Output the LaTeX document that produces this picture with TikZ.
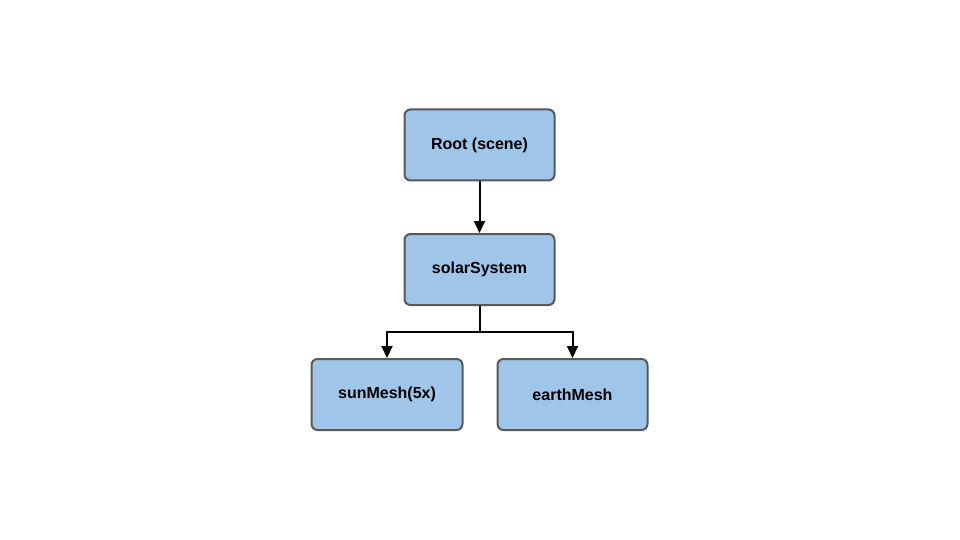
\documentclass[tikz,border=0pt]{standalone}
\usepackage{fontspec}
\setmainfont{Liberation Sans}
\usetikzlibrary{arrows.meta}
\definecolor{boxfill}{HTML}{9FC5E8}
\definecolor{boxline}{HTML}{595959}
\begin{document}
\begin{tikzpicture}[x=1pt,y=-1pt,
  box/.style={draw=boxline,line width=2pt,fill=boxfill,rounded corners=6pt,minimum width=150pt,minimum height=71pt,font=\fontsize{16}{19}\selectfont\bfseries,inner sep=0pt},
  conn/.style={line width=2pt,-{Triangle[length=12pt,width=11pt]}}]
\useasboundingbox (0,0) rectangle (960,540);
\node[box] (root) at (479.5,145) {Root (scene)};
\node[box] (solar) at (479.5,269.5) {solarSystem};
\node[box,minimum width=151pt] (sun) at (387,394.5) {sunMesh(5x)};
\node[box] (earth) at (572.5,394.5) {earthMesh};
\draw[conn] (root) -- (solar);
\coordinate (j) at (479.5,332);
\draw[line width=2pt] (solar.south) -- (j);
\draw[conn] (j) -| (sun.north);
\draw[conn] (j) -| (earth.north);
\end{tikzpicture}
\end{document}
